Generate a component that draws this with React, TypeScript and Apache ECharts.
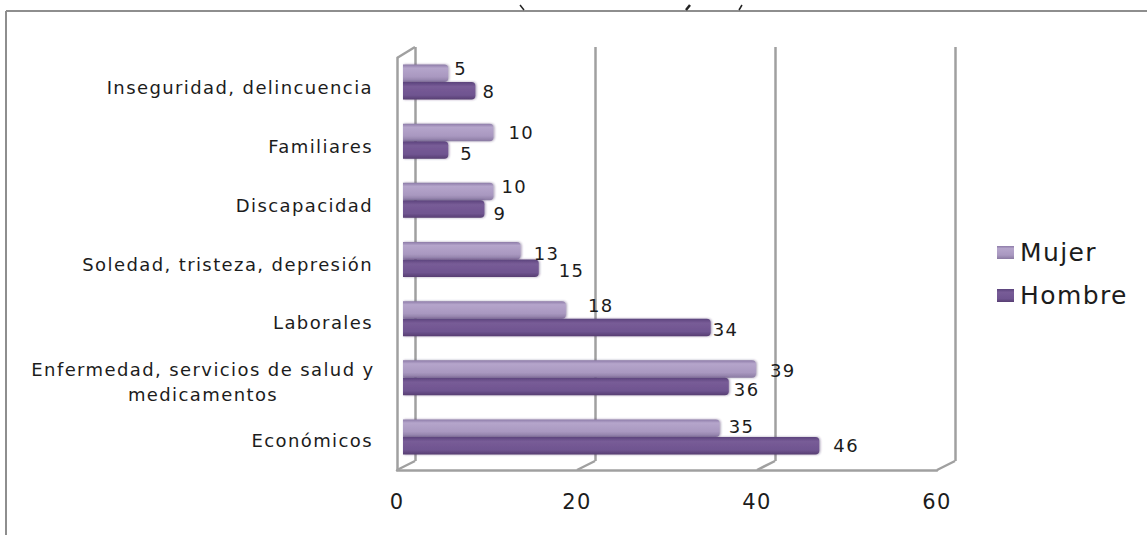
import React, { useEffect, useRef } from "react";
import * as echarts from "echarts";

const categories = [
  "Inseguridad, delincuencia",
  "Familiares",
  "Discapacidad",
  "Soledad, tristeza, depresión",
  "Laborales",
  "Enfermedad, servicios de salud y\nmedicamentos",
  "Económicos",
];
const mujer = [5, 10, 10, 13, 18, 39, 35];
const hombre = [8, 5, 9, 15, 34, 36, 46];
const mujerLabelOffset = [[6, -5], [15, 0], [8, -5], [13, 3], [22, -4], [14, 1], [9, -2]];
const hombreLabelOffset = [[7, 1], [12, 4], [9, 4], [20, 2], [2, 2], [5, 3], [14, 0]];
const xTicks = [0, 20, 40, 60];
const axisMax = 60;

const GRAY = "#a0a0a0";
const TEXT = "#1c1c1c";
const FRONT_LEFT = 397, FRONT_BOTTOM = 470, FRONT_W = 540;
const DX = 18, DY = 9;

function grad(stops: [number, string][]) {
  return new echarts.graphic.LinearGradient(0, 0, 0, 1, stops.map(([offset, color]) => ({ offset, color })));
}

function series(name: string, data: number[], offs: number[][], color: any) {
  return {
    name,
    type: "bar",
    xAxisIndex: 2,
    yAxisIndex: 2,
    barWidth: 17.5,
    barGap: "0%",
    z: 5,
    data: data.map((value, i) => ({
      value,
      label: { offset: offs[i] },
    })),
    itemStyle: { color, borderRadius: [0, 4, 4, 0], shadowColor: "rgba(60,40,90,0.45)", shadowBlur: 2, shadowOffsetX: 1 },
    label: {
      show: true,
      position: "right",
      distance: 0,
      color: TEXT,
      fontFamily: "DejaVu Sans",
      fontSize: 18,
    },
  };
}

export default function App() {
  const ref = useRef<HTMLDivElement>(null);
  useEffect(() => {
    document.body.style.margin = "0";
    const chart = echarts.init(ref.current!, null, { renderer: "svg" });
    const slants = xTicks.map((t) => {
      const x = FRONT_LEFT + (t / axisMax) * FRONT_W;
      return {
        type: "line",
        z: 2,
        shape: { x1: x, y1: FRONT_BOTTOM, x2: x + DX, y2: FRONT_BOTTOM - DY },
        style: { stroke: GRAY, lineWidth: 2.5 },
      };
    });
    chart.setOption({
      animation: false,
      backgroundColor: "#ffffff",
      textStyle: { fontFamily: "DejaVu Sans" },
      grid: [
        { left: FRONT_LEFT, width: FRONT_W, top: 58, height: 412 },
        { left: 415, width: 540, top: 47, height: 414 },
        { left: 403, width: 543, top: 52.5, height: 414 },
      ],
      legend: {
        orient: "vertical",
        left: 992,
        top: 235,
        itemWidth: 17,
        itemHeight: 13,
        itemGap: 18,
        icon: "rect",
        data: ["Mujer", "Hombre"],
        textStyle: { color: TEXT, fontSize: 25, fontFamily: "DejaVu Sans", padding: [0, 0, 0, 1] },
      },
      xAxis: [
        {
          gridIndex: 0, type: "value", min: 0, max: axisMax, interval: 20,
          axisLine: { show: true, lineStyle: { color: GRAY, width: 2.5 } },
          axisTick: { show: false }, splitLine: { show: false },
          axisLabel: { color: TEXT, fontSize: 21, margin: 21, fontFamily: "DejaVu Sans" },
        },
        {
          gridIndex: 1, type: "value", min: 0, max: axisMax, interval: 20,
          axisLine: { show: false }, axisTick: { show: false }, axisLabel: { show: false },
          splitLine: { show: true, lineStyle: { color: GRAY, width: 2.5, type: "solid" } },
        },
        {
          gridIndex: 2, type: "value", min: 0, max: axisMax, interval: 20,
          axisLine: { show: false }, axisTick: { show: false }, axisLabel: { show: false }, splitLine: { show: false },
        },
      ],
      yAxis: [
        {
          gridIndex: 0, type: "category", inverse: true, data: categories,
          axisLine: { show: true, onZero: false, lineStyle: { color: GRAY, width: 2.5 } },
          axisTick: { show: false },
          axisLabel: {
            color: TEXT, fontSize: 18, margin: 24, fontFamily: "DejaVu Sans", lineHeight: 25,
            interval: 0, align: "right",
            formatter: (v: string) => {
              const parts = v.split("\n");
              return parts.length > 1 ? parts.map((p) => `{c|${p}}`).join("\n") : v;
            },
            rich: { c: { width: 340, align: "center", fontSize: 18, color: TEXT, lineHeight: 25, fontFamily: "DejaVu Sans" } },
          },
        },
        {
          gridIndex: 1, type: "category", inverse: true, data: categories,
          axisLine: { show: false }, axisTick: { show: false }, axisLabel: { show: false },
        },
        {
          gridIndex: 2, type: "category", inverse: true, data: categories,
          axisLine: { show: false }, axisTick: { show: false }, axisLabel: { show: false },
        },
      ],
      graphic: [
        ...slants,
        { type: "line", z: 2, shape: { x1: FRONT_LEFT, y1: 58, x2: FRONT_LEFT + DX, y2: 47 }, style: { stroke: GRAY, lineWidth: 2.5 } },
        { type: "line", shape: { x1: 6, y1: 11, x2: 1147, y2: 11 }, style: { stroke: "#8e8e8e", lineWidth: 2 } },
        { type: "line", shape: { x1: 6, y1: 11, x2: 6, y2: 535 }, style: { stroke: "#8e8e8e", lineWidth: 2 } },
        { type: "line", shape: { x1: 520, y1: 5, x2: 524, y2: 10 }, style: { stroke: "#222", lineWidth: 1.5 } },
        { type: "line", shape: { x1: 690, y1: 5, x2: 686, y2: 10 }, style: { stroke: "#222", lineWidth: 2.5 } },
        { type: "line", shape: { x1: 742, y1: 5, x2: 739, y2: 10 }, style: { stroke: "#222", lineWidth: 1.5 } },
      ],
      series: [
        series("Mujer", mujer, mujerLabelOffset, grad([[0, "#8d7ba8"], [0.2, "#b5a5cb"], [0.7, "#a998c0"], [1, "#8a7aa2"]])),
        series("Hombre", hombre, hombreLabelOffset, grad([[0, "#5b437c"], [0.25, "#785c97"], [0.75, "#6f5490"], [1, "#573e72"]])),
      ],
    });
    return () => chart.dispose();
  }, []);
  return (
    <div>
      <style>{`#root svg text { letter-spacing: 1.4px; }`}</style>
      <div ref={ref} style={{ width: 1147, height: 535 }} />
    </div>
  );
}
